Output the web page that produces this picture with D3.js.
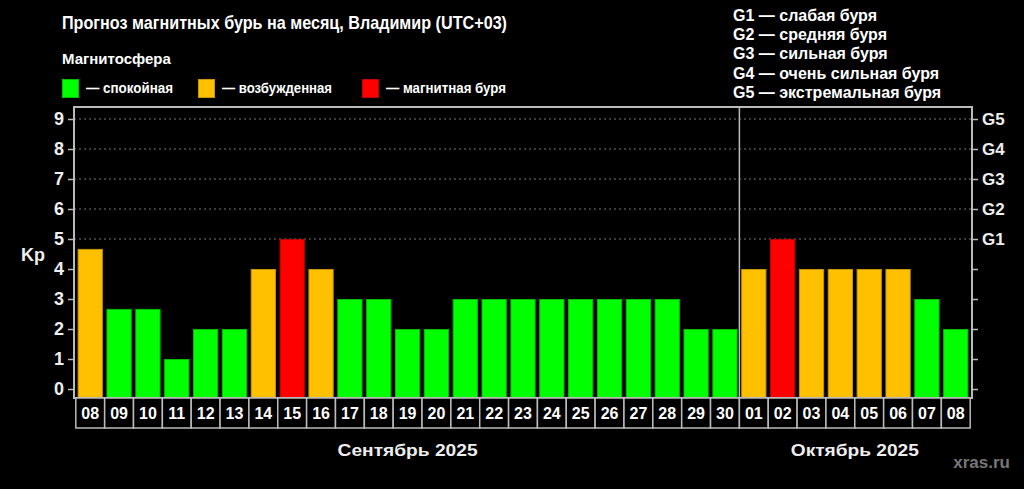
<!DOCTYPE html>
<html><head><meta charset="utf-8">
<script src="https://cdn.jsdelivr.net/npm/d3@7"></script>
<style>
html,body{margin:0;padding:0;background:#000;}
svg{display:block;font-family:"Liberation Sans",Arial,sans-serif;}
</style></head>
<body>
<svg id="c" width="1024" height="489"></svg>
<script>
const days = ["08","09","10","11","12","13","14","15","16","17","18","19","20","21","22","23","24","25","26","27","28","29","30","01","02","03","04","05","06","07","08"];
const months = ["Сентябрь 2025","Сентябрь 2025","Сентябрь 2025","Сентябрь 2025","Сентябрь 2025","Сентябрь 2025","Сентябрь 2025","Сентябрь 2025","Сентябрь 2025","Сентябрь 2025","Сентябрь 2025","Сентябрь 2025","Сентябрь 2025","Сентябрь 2025","Сентябрь 2025","Сентябрь 2025","Сентябрь 2025","Сентябрь 2025","Сентябрь 2025","Сентябрь 2025","Сентябрь 2025","Сентябрь 2025","Сентябрь 2025","Октябрь 2025","Октябрь 2025","Октябрь 2025","Октябрь 2025","Октябрь 2025","Октябрь 2025","Октябрь 2025","Октябрь 2025"];
const kp = [4.67,2.67,2.67,1,2,2,4,5,4,3,3,2,2,3,3,3,3,3,3,3,3,2,2,4,5,4,4,4,4,3,2];
const status = ["active","quiet","quiet","quiet","quiet","quiet","active","storm","active","quiet","quiet","quiet","quiet","quiet","quiet","quiet","quiet","quiet","quiet","quiet","quiet","quiet","quiet","active","storm","active","active","active","active","quiet","quiet"];
const leftTicks = [0,1,2,3,4,5,6,7,8,9];
const gTicks = ["G1","G2","G3","G4","G5"];
const gTickValues = [5,6,7,8,9];
const statusKeys = ["quiet","active","storm"];
const statusLabels = ["— спокойная","— возбужденная","— магнитная буря"];
const statusColors = ["#00ff00","#ffc000","#ff0000"];
const statusStroke = ["#00c000","#c89400","#c00000"];
const gLegend = ["G1 — слабая буря","G2 — средняя буря","G3 — сильная буря","G4 — очень сильная буря","G5 — экстремальная буря"];
const title = "Прогноз магнитных бурь на месяц, Владимир (UTC+03)";

const svg = d3.select("#c");
const L = 74, R = 972, T = 107, B = 398;
const idx = d3.range(days.length);
const x = d3.scaleBand().domain(idx).range([L, R]).paddingInner(0.125).paddingOuter(0.125);
const y = d3.scaleLinear().domain([-0.3, 9.4]).range([B, T]);
const color = d3.scaleOrdinal().domain(statusKeys).range(statusColors);
const stroke = d3.scaleOrdinal().domain(statusKeys).range(statusStroke);

// title
svg.append("text").attr("x",62).attr("y",29).attr("fill","#fff").attr("font-size",18.5).attr("font-weight","bold")
  .attr("textLength",445).attr("lengthAdjust","spacingAndGlyphs").text(title);
svg.append("text").attr("x",62).attr("y",64).attr("fill","#fff").attr("font-size",15).attr("font-weight","bold").text("Магнитосфера");
const legX = [62,198,362];
const legW = [87,110,120];
statusKeys.forEach((k,i)=>{
  svg.append("rect").attr("x",legX[i]+0.5).attr("y",79.5).attr("width",16).attr("height",18).attr("fill",color(k)).attr("stroke",stroke(k)).attr("stroke-width",1);
  svg.append("text").attr("x",legX[i]+24).attr("y",92.5).attr("fill","#fff").attr("font-size",15.5).attr("font-weight","bold")
    .attr("textLength",legW[i]).attr("lengthAdjust","spacingAndGlyphs").text(statusLabels[i]);
});
gLegend.forEach((t,i)=>{
  svg.append("text").attr("x",733).attr("y",21+i*19.2).attr("fill","#fff").attr("font-size",16).attr("font-weight","bold").text(t);
});

// gridlines
svg.append("g").selectAll("line").data(gTickValues).join("line")
  .attr("x1",L).attr("x2",R).attr("y1",d=>y(d)).attr("y2",d=>y(d))
  .attr("stroke","#777").attr("stroke-width",1).attr("stroke-dasharray","2,3");

// bars
svg.append("g").selectAll("rect").data(idx).join("rect")
  .attr("x",i=>x(i)+0.5).attr("width",x.bandwidth()-1)
  .attr("y",i=>y(kp[i])+0.5).attr("height",i=>y(-0.3)-y(kp[i])-0.5)
  .attr("fill",i=>color(status[i])).attr("stroke",i=>stroke(status[i])).attr("stroke-width",1);

// month separator
const sepIdx = months.indexOf("Октябрь 2025");
const step = x.step();
const sepX = x(sepIdx) - step*x.paddingInner()/2;
svg.append("line").attr("x1",sepX).attr("x2",sepX).attr("y1",T).attr("y2",B).attr("stroke","#bbb").attr("stroke-width",1.5);

// left axis
const yl = svg.append("g").attr("transform",`translate(${L},0)`).call(d3.axisLeft(y).tickValues(leftTicks).tickSize(6).tickPadding(4).tickFormat(d3.format("d")));
yl.select(".domain").remove();
yl.selectAll(".tick line").attr("stroke","#bbb").attr("stroke-width",1.5);
yl.selectAll(".tick text").attr("fill","#eee").attr("font-size",18).attr("font-weight","bold").attr("font-family","Liberation Sans, Arial, sans-serif");
// right axis
const yr = svg.append("g").attr("transform",`translate(${R},0)`).call(d3.axisRight(y).tickValues(leftTicks).tickSize(6).tickPadding(4).tickFormat(d=>{const j=gTickValues.indexOf(d);return j>=0?gTicks[j]:"";}));
yr.select(".domain").remove();
yr.selectAll(".tick line").attr("stroke","#bbb").attr("stroke-width",1.5);
yr.selectAll(".tick text").attr("fill","#eee").attr("font-size",17).attr("font-weight","bold").attr("font-family","Liberation Sans, Arial, sans-serif");

svg.append("text").attr("x",33).attr("y",261).attr("text-anchor","middle").attr("fill","#eee").attr("font-size",18).attr("font-weight","bold").text("Kp");

// frame
svg.append("path").attr("d",`M${L},${B}V${T}H${R}V${B}Z`).attr("fill","none").attr("stroke","#bbb").attr("stroke-width",2);

// date cells
const cellT = B, cellB = 428;
const cells = svg.append("g");
cells.selectAll("rect").data(idx).join("rect")
  .attr("x",i=>x(i)-step*x.paddingInner()/2).attr("width",step)
  .attr("y",cellT).attr("height",cellB-cellT)
  .attr("fill","#000").attr("stroke","#bbb").attr("stroke-width",1.5);
cells.selectAll("text").data(idx).join("text")
  .attr("x",i=>x(i)+x.bandwidth()/2).attr("y",419).attr("text-anchor","middle")
  .attr("fill","#fff").attr("font-size",16).attr("font-weight","bold").text(i=>days[i]);

// month labels
const monthNames = Array.from(new Set(months));
const monthW = [140,128];
monthNames.forEach((m,k)=>{
  const ii = idx.filter(i=>months[i]===m);
  const x0 = x(ii[0]), x1 = x(ii[ii.length-1])+x.bandwidth();
  svg.append("text").attr("x",(x0+x1)/2 - monthW[k]/2).attr("y",456).attr("fill","#eee").attr("font-size",17).attr("font-weight","bold")
    .attr("textLength",monthW[k]).attr("lengthAdjust","spacingAndGlyphs").text(m);
});

svg.append("text").attr("x",1010).attr("y",468).attr("text-anchor","end").attr("fill","#777").attr("font-size",17).attr("font-weight","bold").text("xras.ru");
</script>
</body></html>
